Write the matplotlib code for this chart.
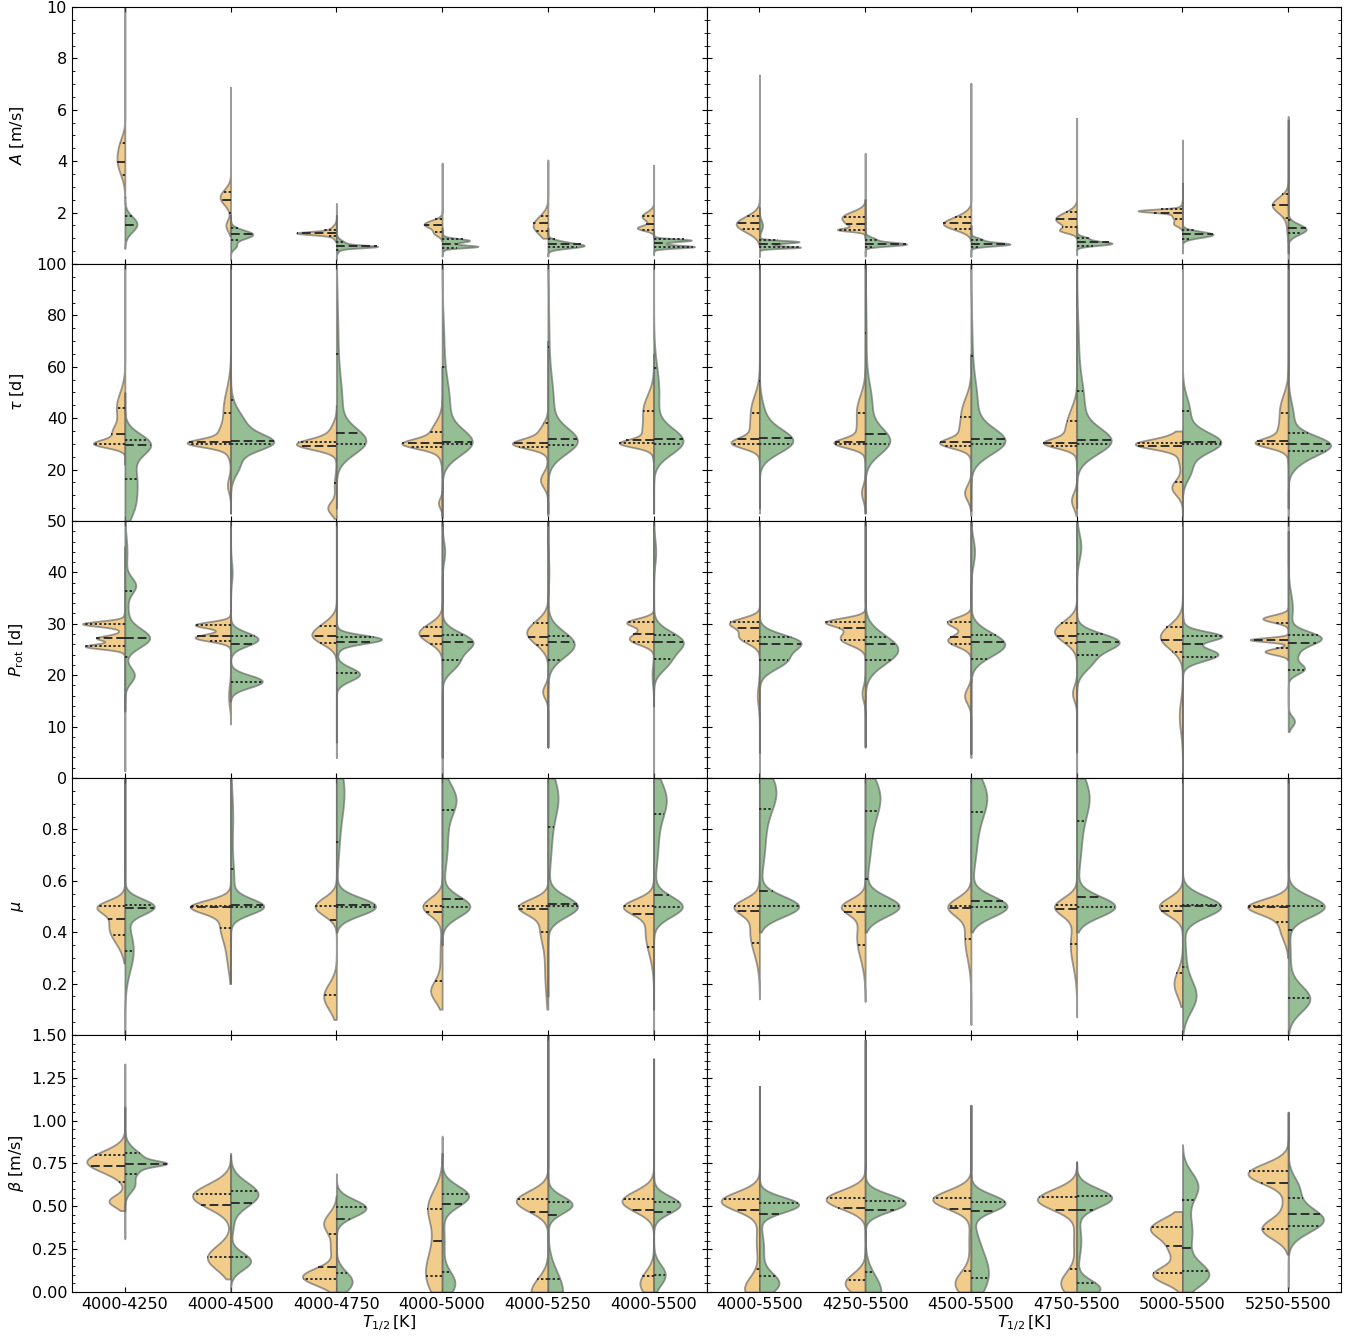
import numpy as np
import matplotlib
matplotlib.use("Agg")
import matplotlib.pyplot as plt
from matplotlib.ticker import MultipleLocator, FixedLocator, FuncFormatter

# ---------------- categories ----------------
T_left = ["4000-4250", "4000-4500", "4000-4750", "4000-5000", "4000-5250", "4000-5500"]
T_right = ["4000-5500", "4250-5500", "4500-5500", "4750-5500", "5000-5500", "5250-5500"]

# Each half violin: kde = list of gaussian components (centre, sigma, half-width),
# rng = (data min, data max), q = (q1, median, q3). 12 entries: left panel 6, right panel 6.

# ---------------- A [m/s] ----------------
A_or_kde = [[(4.0, 0.5, 0.07), (4.7, 0.35, 0.025)], [(2.6, 0.3, 0.1), (1.5, 0.22, 0.045)],
            [(1.2, 0.06, 0.3), (1.25, 0.18, 0.08)], [(1.55, 0.15, 0.17), (1.2, 0.12, 0.07)],
            [(1.5, 0.35, 0.14)], [(1.4, 0.1, 0.15), (1.85, 0.18, 0.11)],
            [(1.55, 0.3, 0.22)], [(1.82, 0.22, 0.21), (1.33, 0.06, 0.2), (1.5, 0.15, 0.08)],
            [(1.55, 0.22, 0.25), (1.9, 0.2, 0.05)], [(1.75, 0.25, 0.2), (1.3, 0.1, 0.12)],
            [(2.07, 0.06, 0.35), (1.9, 0.2, 0.1), (1.55, 0.1, 0.06)], [(2.3, 0.3, 0.15), (1.5, 0.4, 0.015)]]
A_or_rng = [(2.6, 10.0), (1.1, 6.87), (0.87, 2.36), (0.9, 3.92), (1.0, 4.05), (1.0, 3.83),
            (0.75, 7.35), (1.0, 4.3), (0.9, 7.03), (1.0, 5.67), (1.25, 4.82), (0.0, 5.73)]
A_or_q = [(3.47, 3.98, 4.72), (1.97, 2.49, 2.80), (1.08, 1.19, 1.31), (1.25, 1.52, 1.74),
          (1.30, 1.58, 1.87), (1.32, 1.56, 1.87), (1.35, 1.61, 1.88), (1.32, 1.56, 1.84),
          (1.35, 1.58, 1.84), (1.44, 1.74, 2.04), (1.75, 2.0, 2.14), (1.78, 2.30, 2.71)]
A_gr_kde = [[(1.55, 0.3, 0.115)], [(1.15, 0.17, 0.21), (0.7, 0.12, 0.05)],
            [(0.68, 0.05, 0.3), (0.75, 0.15, 0.1)], [(0.68, 0.05, 0.28), (0.92, 0.07, 0.2), (0.8, 0.15, 0.08)],
            [(0.7, 0.09, 0.3), (0.85, 0.1, 0.12)], [(0.93, 0.05, 0.3), (0.67, 0.05, 0.33), (0.8, 0.12, 0.1)],
            [(0.87, 0.05, 0.3), (0.65, 0.04, 0.33), (0.77, 0.1, 0.12), (1.5, 0.2, 0.03)],
            [(0.77, 0.07, 0.37), (0.95, 0.1, 0.1)], [(0.77, 0.07, 0.36), (0.95, 0.08, 0.1)],
            [(0.8, 0.08, 0.33), (1.0, 0.08, 0.1)], [(1.15, 0.12, 0.29)], [(1.35, 0.2, 0.17)]]
A_gr_rng = [(0.6, 2.6), (0.15, 1.9), (0.15, 1.9), (0.3, 1.4), (0.3, 1.4), (0.35, 1.3),
            (0.28, 2.2), (0.3, 2.5), (0.28, 1.5), (0.35, 1.5), (0.42, 3.14), (0.42, 5.6)]
A_gr_q = [(None, 1.50, 1.87), (0.92, 1.15, 1.40), (0.53, 0.69, 0.86), (0.61, 0.77, 0.96),
          (0.65, 0.77, 0.96), (0.66, 0.80, 0.96), (0.65, 0.79, 0.93), (0.65, 0.79, 0.93),
          (0.65, 0.79, 0.93), (0.70, 0.84, 1.0), (0.96, 1.15, 1.32), (1.19, 1.40, 1.71)]

# ---------------- tau [d] ----------------
tau_or_kde = [[(30, 1.5, 0.25), (34, 3, 0.1), (44, 6, 0.08)],
              [(30.3, 1.5, 0.3), (32, 4, 0.1), (43, 8, 0.07), (14, 3, 0.03)],
              [(29.8, 2, 0.32), (33, 4, 0.08), (5, 2.5, 0.08), (14, 4, 0.02)],
              [(30, 1.8, 0.28), (33, 5, 0.12), (7, 2, 0.035)],
              [(30, 1.8, 0.26), (33, 4, 0.1), (16, 3, 0.07)],
              [(30.2, 1.5, 0.25), (33, 4, 0.08), (43, 6, 0.1)],
              [(30.3, 2, 0.22), (34, 4, 0.06), (43, 6, 0.08)],
              [(30.3, 1.8, 0.24), (33, 4, 0.06), (43, 6, 0.08), (11, 3, 0.035)],
              [(30.2, 1.8, 0.22), (33, 4, 0.08), (42, 6, 0.09), (11, 3, 0.06)],
              [(30.2, 1.8, 0.24), (33, 4, 0.08), (40, 5, 0.07), (8, 3, 0.05)],
              [(29.8, 1.8, 0.35), (32, 3, 0.1), (13, 3, 0.1), (25, 4, 0.04)],
              [(30.3, 1.8, 0.24), (33, 4, 0.08), (43, 6, 0.08)]]
tau_or_rng = [(22, 100), (3, 100), (1, 45), (1, 60), (2, 70), (3, 65),
              (3, 100), (3, 100), (4, 65), (2, 100), (2, 35), (5, 100)]
tau_or_q = [(30.1, 33.9, 43.8), (29.8, 30.9, 42.2), (14.9, 29.2, 30.6), (28.7, 30.2, 34.6),
            (28.9, 30.2, 38.0), (30.2, 31.5, 42.9), (29.8, 31.8, 42.2), (29.8, 30.9, 42.2),
            (29.3, 30.6, 40.6), (29.2, 30.5, 39.0), (15.3, 29.2, 30.2), (30.0, 31.3, 42.2)]
tau_gr_kde = [[(30, 4, 0.22), (16, 8, 0.11), (5, 5, 0.05)],
              [(30.5, 3, 0.3), (36, 6, 0.15), (22, 4, 0.08)],
              [(31, 5, 0.26), (45, 10, 0.05), (70, 15, 0.015)],
              [(30.5, 5, 0.26), (45, 10, 0.07), (70, 10, 0.015)],
              [(31, 5, 0.26), (45, 10, 0.05), (70, 15, 0.01)],
              [(31, 5, 0.27), (50, 10, 0.05)],
              [(31, 4.5, 0.3), (40, 6, 0.05)],
              [(31, 5, 0.22), (45, 8, 0.06), (70, 15, 0.01)],
              [(31, 5, 0.3), (45, 10, 0.06), (70, 10, 0.01)],
              [(31, 5, 0.3), (45, 10, 0.07), (70, 10, 0.015)],
              [(30.5, 4, 0.35), (42, 6, 0.07), (20, 4, 0.08)],
              [(30, 3.5, 0.33), (25, 4, 0.12), (40, 6, 0.05)]]
tau_gr_rng = [(0, 50), (3, 100), (5, 100), (2, 100), (3, 100), (3, 100),
              (5, 100), (3, 100), (2, 100), (5, 100), (0, 100), (0, 100)]
tau_gr_q = [(16.3, 29.4, 31.5), (30.0, 31.1, 47.1), (29.8, 34.4, 64.9), (30.0, 30.9, 60.0),
            (29.7, 32.0, 67.6), (29.8, 31.9, 59.4), (30.0, 32.2, 54.6), (29.8, 33.7, 73.0),
            (29.8, 31.9, 64.0), (30.0, 31.5, 50.7), (30.0, 30.6, 42.9), (27.4, 29.8, 34.4)]

# ---------------- P_rot [d] ----------------
P_or_kde = [[(30, 0.5, 0.37), (27.2, 0.5, 0.22), (25.6, 0.5, 0.35), (28, 2, 0.05)],
            [(29.8, 0.6, 0.3), (27.3, 0.7, 0.3), (28.5, 1.5, 0.05), (16, 2, 0.02)],
            [(27.6, 1.6, 0.21), (30, 1.5, 0.07)],
            [(28.2, 1.8, 0.22)],
            [(28.3, 2.2, 0.2), (16.8, 1.3, 0.05)],
            [(30.3, 0.8, 0.24), (26.8, 1, 0.19), (28.3, 1, 0.1), (20, 2, 0.015)],
            [(30.2, 1, 0.26), (27.5, 1.3, 0.19), (16, 2, 0.02)],
            [(30.4, 0.8, 0.33), (27, 1.2, 0.22), (29, 1, 0.1), (16.5, 1.5, 0.03)],
            [(30.3, 1, 0.22), (26.8, 1.2, 0.22), (16, 1.5, 0.06)],
            [(28.5, 2, 0.21), (16.5, 1.5, 0.04)],
            [(27.5, 2.3, 0.21), (12, 3, 0.03)],
            [(31, 0.7, 0.24), (26.9, 0.4, 0.36), (24.6, 0.6, 0.22)]]
P_or_rng = [(1.4, 45), (10.5, 50), (4, 50), (4, 50), (6, 50), (14, 50),
            (0, 50), (6, 50), (4.7, 50), (5, 50), (0, 50), (23, 48)]
P_or_q = [(25.6, 27.2, 29.9), (26.6, 27.6, 29.8), (26.3, 27.6, 29.6), (26.1, 27.7, 29.4),
          (25.9, 27.5, 30.2), (26.5, 28.0, 30.3), (26.6, 29.1, 30.3), (26.9, 29.2, 30.3),
          (26.1, 27.4, 30.3), (26.3, 27.6, 30.2), (24.6, 26.8, 29.3), (25.2, 26.9, 30.2)]
P_gr_kde = [[(27.2, 1.8, 0.22), (37.5, 1.5, 0.09), (20, 1.5, 0.09), (32, 4, 0.03), (44, 3, 0.02)],
            [(27, 1.3, 0.26), (18.8, 1.2, 0.3), (40, 2, 0.015)],
            [(27, 0.8, 0.38), (26.5, 1.5, 0.05), (20.2, 1.3, 0.22)],
            [(26.5, 1.8, 0.28), (22.5, 1.8, 0.14), (44, 2, 0.025)],
            [(26, 2.5, 0.25), (40, 3, 0.01)],
            [(26.5, 2, 0.27), (22.5, 1.8, 0.12), (44, 2.5, 0.02)],
            [(26.5, 1.5, 0.35), (23, 1.8, 0.25)],
            [(25, 2.8, 0.31)],
            [(26, 2.3, 0.32), (44, 2.5, 0.035)],
            [(26.6, 1.6, 0.37), (23, 2, 0.15), (45, 2.5, 0.04)],
            [(27.6, 0.9, 0.33), (24, 1.2, 0.3), (26, 2.5, 0.05)],
            [(27.2, 1.3, 0.3), (21.2, 1, 0.14), (24, 1.5, 0.08), (11, 1, 0.06), (33, 3, 0.04)]]
P_gr_rng = [(13, 50), (15, 50), (7, 50), (0, 50), (6, 50), (0, 50),
            (5, 50), (6, 50), (4, 50), (0, 50), (0, 50), (9, 50)]
P_gr_q = [(23.5, 27.2, 36.4), (18.7, 26.1, 27.6), (20.5, 26.4, 27.5), (23.0, 26.5, 27.9),
          (23.0, 26.4, 27.7), (23.1, 26.5, 27.8), (23.0, 26.1, 27.4), (23.0, 26.1, 27.5),
          (23.2, 26.4, 27.8), (23.9, 26.5, 28.0), (23.6, 26.1, 27.7), (21.1, 26.3, 27.8)]

# ---------------- mu ----------------
mu_or_kde = [[(0.5, 0.025, 0.2), (0.42, 0.06, 0.15)],
             [(0.5, 0.025, 0.33), (0.43, 0.06, 0.1), (0.3, 0.06, 0.03)],
             [(0.5, 0.035, 0.2), (0.15, 0.05, 0.12)],
             [(0.5, 0.035, 0.18), (0.17, 0.04, 0.1), (0.3, 0.1, 0.02)],
             [(0.5, 0.03, 0.25), (0.42, 0.06, 0.07), (0.25, 0.1, 0.03)],
             [(0.5, 0.03, 0.25), (0.4, 0.08, 0.08)],
             [(0.5, 0.03, 0.2), (0.4, 0.08, 0.09)],
             [(0.5, 0.03, 0.2), (0.38, 0.08, 0.08)],
             [(0.5, 0.035, 0.2), (0.38, 0.08, 0.06)],
             [(0.5, 0.035, 0.2), (0.35, 0.08, 0.06)],
             [(0.5, 0.035, 0.22), (0.2, 0.05, 0.08)],
             [(0.5, 0.03, 0.36), (0.42, 0.05, 0.08)]]
mu_or_rng = [(0.28, 1.0), (0.2, 1.0), (0.06, 1.0), (0.1, 1.0), (0.1, 1.0), (0.1, 1.0),
             (0.14, 1.0), (0.13, 1.0), (0.04, 1.0), (0.07, 1.0), (0.11, 1.0), (0.3, 1.0)]
mu_or_q = [(0.39, 0.45, 0.50), (0.415, 0.497, 0.503), (0.156, 0.447, 0.50), (0.211, 0.48, 0.503),
           (0.40, 0.49, 0.50), (0.344, 0.47, 0.50), (0.358, 0.484, 0.503), (0.351, 0.48, 0.503),
           (0.374, 0.494, 0.503), (0.354, 0.489, 0.505), (0.24, 0.484, 0.503), (0.438, 0.497, 0.503)]
mu_gr_kde = [[(0.5, 0.03, 0.27), (0.33, 0.08, 0.08)],
             [(0.5, 0.03, 0.3), (0.6, 0.08, 0.03), (0.85, 0.1, 0.02)],
             [(0.5, 0.035, 0.37), (0.95, 0.1, 0.07), (0.75, 0.1, 0.02)],
             [(0.5, 0.04, 0.26), (0.92, 0.06, 0.12), (0.75, 0.1, 0.05)],
             [(0.5, 0.04, 0.28), (0.93, 0.08, 0.09), (0.75, 0.1, 0.03)],
             [(0.5, 0.04, 0.27), (0.92, 0.07, 0.11), (0.75, 0.1, 0.04)],
             [(0.5, 0.04, 0.37), (0.95, 0.08, 0.15), (0.75, 0.1, 0.05)],
             [(0.5, 0.04, 0.32), (0.93, 0.08, 0.13), (0.75, 0.1, 0.05)],
             [(0.5, 0.04, 0.34), (0.93, 0.08, 0.14), (0.75, 0.1, 0.05)],
             [(0.5, 0.04, 0.36), (0.93, 0.08, 0.11), (0.75, 0.1, 0.04)],
             [(0.5, 0.04, 0.36), (0.15, 0.06, 0.12), (0.3, 0.1, 0.03)],
             [(0.5, 0.04, 0.34), (0.14, 0.05, 0.2), (0.3, 0.1, 0.02)]]
mu_gr_rng = [(0.0, 1.0), (0.2, 1.0), (0.4, 1.0), (0.35, 1.0), (0.15, 1.0), (0.0, 1.0),
             (0.4, 1.0), (0.4, 1.0), (0.4, 1.0), (0.4, 1.0), (0.0, 1.0), (0.0, 1.0)]
mu_gr_q = [(0.328, 0.493, 0.507), (0.497, 0.506, 0.646), (0.497, 0.507, 0.75), (0.497, 0.53, 0.877),
           (0.50, 0.51, 0.81), (0.497, 0.545, 0.86), (0.5, 0.56, 0.88), (0.5, 0.607, 0.873),
           (0.497, 0.52, 0.866), (0.497, 0.538, 0.834), (0.266, 0.5, 0.507), (0.144, 0.41, 0.5)]

# ---------------- beta [m/s] ----------------
b_or_kde = [[(0.76, 0.06, 0.36), (0.53, 0.035, 0.15)],
            [(0.56, 0.07, 0.36), (0.2, 0.07, 0.22)],
            [(0.09, 0.05, 0.32), (0.4, 0.06, 0.12), (0.25, 0.05, 0.05)],
            [(0.5, 0.1, 0.13), (0.1, 0.12, 0.15), (0.3, 0.1, 0.05)],
            [(0.53, 0.06, 0.3), (0.0, 0.08, 0.16)],
            [(0.53, 0.06, 0.3), (0.05, 0.07, 0.13)],
            [(0.53, 0.055, 0.36), (0.02, 0.07, 0.14), (0.3, 0.1, 0.03)],
            [(0.54, 0.055, 0.37), (0.05, 0.06, 0.19)],
            [(0.54, 0.055, 0.36), (0.05, 0.07, 0.15), (0.3, 0.1, 0.02)],
            [(0.54, 0.06, 0.37), (0.05, 0.07, 0.15), (0.3, 0.1, 0.03)],
            [(0.37, 0.06, 0.3), (0.1, 0.05, 0.28), (0.24, 0.05, 0.1)],
            [(0.69, 0.06, 0.38), (0.37, 0.06, 0.25), (0.52, 0.05, 0.04)]]
b_or_rng = [(0.475, 1.33), (0.076, 0.80), (0.0, 0.56), (0.0, 0.81), (0.0, 1.5), (0.0, 1.36),
            (0.0, 1.2), (0.0, 1.47), (0.0, 1.09), (0.0, 0.76), (0.0, 0.47), (0.22, 1.05)]
b_or_q = [(0.644, 0.737, 0.80), (0.204, 0.51, 0.574), (0.078, 0.146, 0.339), (0.095, 0.298, 0.486),
          (0.078, 0.467, 0.543), (0.091, 0.477, 0.545), (0.136, 0.48, 0.545), (0.07, 0.492, 0.55),
          (0.125, 0.486, 0.549), (0.136, 0.48, 0.556), (0.109, 0.27, 0.379), (0.37, 0.636, 0.706)]
b_gr_kde = [[(0.75, 0.015, 0.2), (0.76, 0.06, 0.2), (0.62, 0.04, 0.08)],
            [(0.57, 0.07, 0.26), (0.18, 0.05, 0.19), (0.38, 0.05, 0.02)],
            [(0.49, 0.05, 0.28), (0.06, 0.06, 0.15)],
            [(0.56, 0.06, 0.25), (0.05, 0.07, 0.12), (0.3, 0.1, 0.02)],
            [(0.51, 0.05, 0.23), (0.0, 0.12, 0.14)],
            [(0.51, 0.05, 0.25), (0.1, 0.06, 0.11)],
            [(0.51, 0.045, 0.37), (0.05, 0.06, 0.18), (0.25, 0.1, 0.04)],
            [(0.52, 0.05, 0.38), (0.0, 0.1, 0.15)],
            [(0.52, 0.05, 0.32), (0.1, 0.12, 0.16), (0.3, 0.1, 0.04)],
            [(0.55, 0.055, 0.33), (0.02, 0.05, 0.22), (0.3, 0.1, 0.04)],
            [(0.1, 0.07, 0.24), (0.62, 0.08, 0.14), (0.35, 0.12, 0.09)],
            [(0.42, 0.07, 0.33), (0.6, 0.07, 0.1)]]
b_gr_rng = [(0.31, 1.08), (0.0, 0.81), (0.0, 0.69), (0.0, 0.91), (0.0, 1.5), (0.0, 1.36),
            (0.0, 1.2), (0.0, 1.47), (0.0, 1.09), (0.0, 0.76), (0.0, 0.86), (0.02, 1.05)]
b_gr_q = [(0.69, 0.749, 0.811), (0.204, 0.52, 0.59), (0.111, 0.428, 0.494), (0.117, 0.514, 0.572),
          (0.078, 0.451, 0.523), (0.10, 0.465, 0.523), (0.091, 0.457, 0.52), (0.115, 0.48, 0.533),
          (0.082, 0.471, 0.525), (0.05, 0.479, 0.56), (0.121, 0.257, 0.539), (0.383, 0.457, 0.55)]

# ---------------- axis settings ----------------
ylabels = [r"$A$ [m/s]", r"$\tau$ [d]", r"$P_{\rm rot}$ [d]", r"$\mu$", r"$\beta$ [m/s]"]
ylims = [(0, 10), (0, 100), (0, 50), (0, 1), (0, 1.5)]
ymajor = [2, 20, 10, 0.2, 0.25]
yminor = [0.5, 5, 2, 0.05, 0.05]
yfmt = ["{:.0f}", "{:.0f}", "{:.0f}", "{:.1f}", "{:.2f}"]
yhide = [(0,), (0,), (), (0, 1), ()]
xlabel = r"$T_{1/2}\,$[K]"

ORANGE = "#f1cc8a"
GREEN = "#95be95"
EDGE = (0.35, 0.35, 0.35, 0.6)
QCOL = "#2e2e2e"

rows = [
    (A_or_kde, A_or_rng, A_or_q, A_gr_kde, A_gr_rng, A_gr_q),
    (tau_or_kde, tau_or_rng, tau_or_q, tau_gr_kde, tau_gr_rng, tau_gr_q),
    (P_or_kde, P_or_rng, P_or_q, P_gr_kde, P_gr_rng, P_gr_q),
    (mu_or_kde, mu_or_rng, mu_or_q, mu_gr_kde, mu_gr_rng, mu_gr_q),
    (b_or_kde, b_or_rng, b_or_q, b_gr_kde, b_gr_rng, b_gr_q),
]


def profile(y, comps):
    w = np.zeros_like(y, dtype=float)
    for m, s, a in comps:
        w += a * np.exp(-0.5 * ((y - m) / s) ** 2)
    return w


def half_violin(ax, pos, comps, rng, quarts, side, color):
    y = np.linspace(rng[0], rng[1], 800)
    w = profile(y, comps)
    ax.fill_betweenx(y, pos, pos + side * w, facecolor=color, edgecolor=EDGE,
                     linewidth=1.3, zorder=2)
    styles = [(0, (1.2, 1.2)), (0, (4.5, 2.0)), (0, (1.2, 1.2))]
    for q, ls in zip(quarts, styles):
        if q is None:
            continue
        wq = profile(np.array([q]), comps)[0]
        ax.plot([pos, pos + side * wq], [q, q], color=QCOL, linestyle=ls,
                linewidth=1.4, zorder=3, solid_capstyle="butt", dash_capstyle="butt")


fig, axes = plt.subplots(5, 2, figsize=(13.63, 13.38), dpi=100, sharex=False)
fig.subplots_adjust(left=0.0528, right=0.9839, top=0.9948, bottom=0.0344,
                    hspace=0.0, wspace=0.0)

FS = 11.5
for r in range(5):
    okde, orng, oq, gkde, grng, gq = rows[r]
    for c in range(2):
        ax = axes[r, c]
        cats = T_left if c == 0 else T_right
        for i in range(6):
            k = c * 6 + i
            half_violin(ax, i, okde[k], orng[k], oq[k], -1, ORANGE)
            half_violin(ax, i, gkde[k], grng[k], gq[k], +1, GREEN)
        ax.set_xlim(-0.5, 5.5)
        ax.set_ylim(*ylims[r])
        ax.xaxis.set_major_locator(FixedLocator(range(6)))
        ax.yaxis.set_major_locator(MultipleLocator(ymajor[r]))
        ax.yaxis.set_minor_locator(MultipleLocator(yminor[r]))
        fmt = yfmt[r]
        hide = yhide[r]
        ax.yaxis.set_major_formatter(FuncFormatter(
            lambda v, p, fmt=fmt, hide=hide: "" if any(abs(v - h) < 1e-9 for h in hide) else fmt.format(v)))
        ax.tick_params(which="both", direction="in", top=True, right=True,
                       labelsize=FS)
        if r == 4:
            ax.set_xticks(range(6))
            ax.set_xticklabels(cats)
            ax.set_xlabel(xlabel, fontsize=FS, labelpad=1)
        else:
            ax.set_xticklabels([])
        if c == 0:
            ax.set_ylabel(ylabels[r], fontsize=FS)
        else:
            ax.tick_params(labelleft=False)

fig.align_ylabels(axes[:, 0])
fig.savefig("out.png", dpi=100)
